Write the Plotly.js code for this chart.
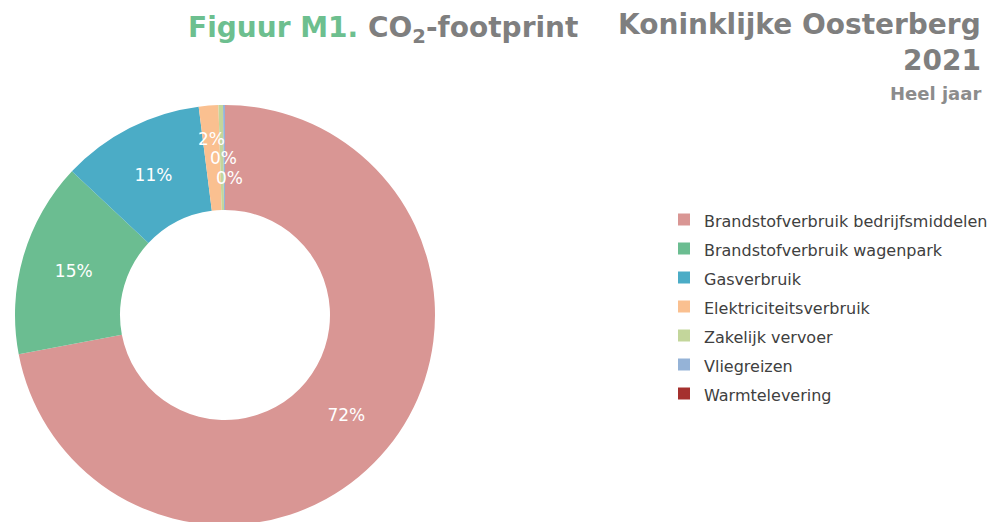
<!DOCTYPE html>
<html>
<head>
<meta charset="utf-8">
<script src="https://cdn.plot.ly/plotly-3.0.1.min.js"></script>
<style>
  html, body { margin: 0; padding: 0; overflow: hidden; background: #fff; }
  #chart { width: 995px; height: 540px; }
</style>
</head>
<body>
<div id="chart"></div>
<script>
// Data (share of CO2 footprint, %)
const categories = [
  "Brandstofverbruik bedrijfsmiddelen",
  "Brandstofverbruik wagenpark",
  "Gasverbruik",
  "Elektriciteitsverbruik",
  "Zakelijk vervoer",
  "Vliegreizen",
  "Warmtelevering"
];
const values = [72.0, 15.0, 11.0, 1.5, 0.35, 0.15, 0];
const colors = ["#D99694", "#6BBD91", "#4BACC6", "#FAC090", "#C3D69B", "#95B3D7", "#A5302E"];

const W = 995, H = 540;
const cx = 225, cy = 315, R = 210;

// Which slices get their label inside through plotly, which get a staggered callout label (Excel style)
const insideLabel = [true, true, true, false, false, false, false];
const calloutRadius = [0, 0, 0, 177, 157, 137, 0];
const calloutShift = [0, 0, 0, 0, 2, 5, 0];

const legendLabels = categories.map(c => '<span style="font-size:16px">' + c + '</span>');
const total = values.reduce((a, b) => a + b, 0);

const trace = {
  type: "pie",
  labels: legendLabels,
  values: values,
  marker: { colors: colors, line: { width: 0 } },
  hole: 0.5,
  sort: false,
  direction: "clockwise",
  rotation: 0,
  textposition: insideLabel.map(v => v ? "inside" : "none"),
  insidetextorientation: "horizontal",
  texttemplate: "%{percent:.0%}",
  textfont: { family: "DejaVu Sans", size: 17, color: "#ffffff" },
  hoverinfo: "label+percent",
  domain: {
    x: [(cx - R) / W, (cx + R) / W],
    y: [(H - (cy + R)) / H, (H - (cy - R)) / H]
  }
};

// callout labels for the thin slices, placed at each slice's mid angle
const calloutAnnotations = [];
let cum = 0;
values.forEach((v, i) => {
  const mid = (cum + v / 2) / total * 2 * Math.PI;
  cum += v;
  if (insideLabel[i] || v <= 0) return;
  const r = calloutRadius[i];
  const px = cx + r * Math.sin(mid);
  const py = cy - r * Math.cos(mid);
  calloutAnnotations.push({
    text: Math.round(v / total * 100) + "%",
    xref: "paper", yref: "paper",
    x: px / W, y: 1 - py / H,
    xanchor: "center", yanchor: "middle",
    xshift: calloutShift[i],
    showarrow: false,
    font: { family: "DejaVu Sans", size: 17, color: "#ffffff" }
  });
});

const layout = {
  width: W,
  height: H,
  margin: { l: 0, r: 0, t: 0, b: 0 },
  paper_bgcolor: "#ffffff",
  plot_bgcolor: "#ffffff",
  font: { family: "DejaVu Sans", color: "#404040" },
  showlegend: true,
  legend: {
    x: 664 / W,
    xanchor: "left",
    y: 1 - 306.5 / H,
    yanchor: "middle",
    font: { family: "DejaVu Sans", size: 20, color: "#404040" },
    bgcolor: "rgba(0,0,0,0)"
  },
  title: {
    text: '<span style="color:#6DBF8F">Figuur M1.</span> CO<sub>2</sub>-footprint',
    x: 188 / W,
    xanchor: "left",
    xref: "paper",
    y: 1 - 27 / H,
    yanchor: "middle",
    yref: "container",
    font: { family: "DejaVu Sans", size: 28, color: "#7F7F7F", weight: "bold" }
  },
  annotations: [
    {
      text: "<b>Koninklijke Oosterberg</b>",
      xref: "paper", yref: "paper",
      x: 983 / W, xanchor: "right",
      y: 1 - 25 / H, yanchor: "middle",
      showarrow: false,
      font: { family: "DejaVu Sans", size: 28, color: "#7F7F7F" }
    },
    {
      text: "<b>2021</b>",
      xref: "paper", yref: "paper",
      x: 983 / W, xanchor: "right",
      y: 1 - 61 / H, yanchor: "middle",
      showarrow: false,
      font: { family: "DejaVu Sans", size: 28, color: "#7F7F7F" }
    },
    {
      text: "<b>Heel jaar</b>",
      xref: "paper", yref: "paper",
      x: 983 / W, xanchor: "right",
      y: 1 - 94 / H, yanchor: "middle",
      showarrow: false,
      font: { family: "DejaVu Sans", size: 18, color: "#8C8C8C" }
    }
  ].concat(calloutAnnotations)
};

Plotly.newPlot("chart", [trace], layout, { displayModeBar: false, staticPlot: true });
</script>
</body>
</html>
